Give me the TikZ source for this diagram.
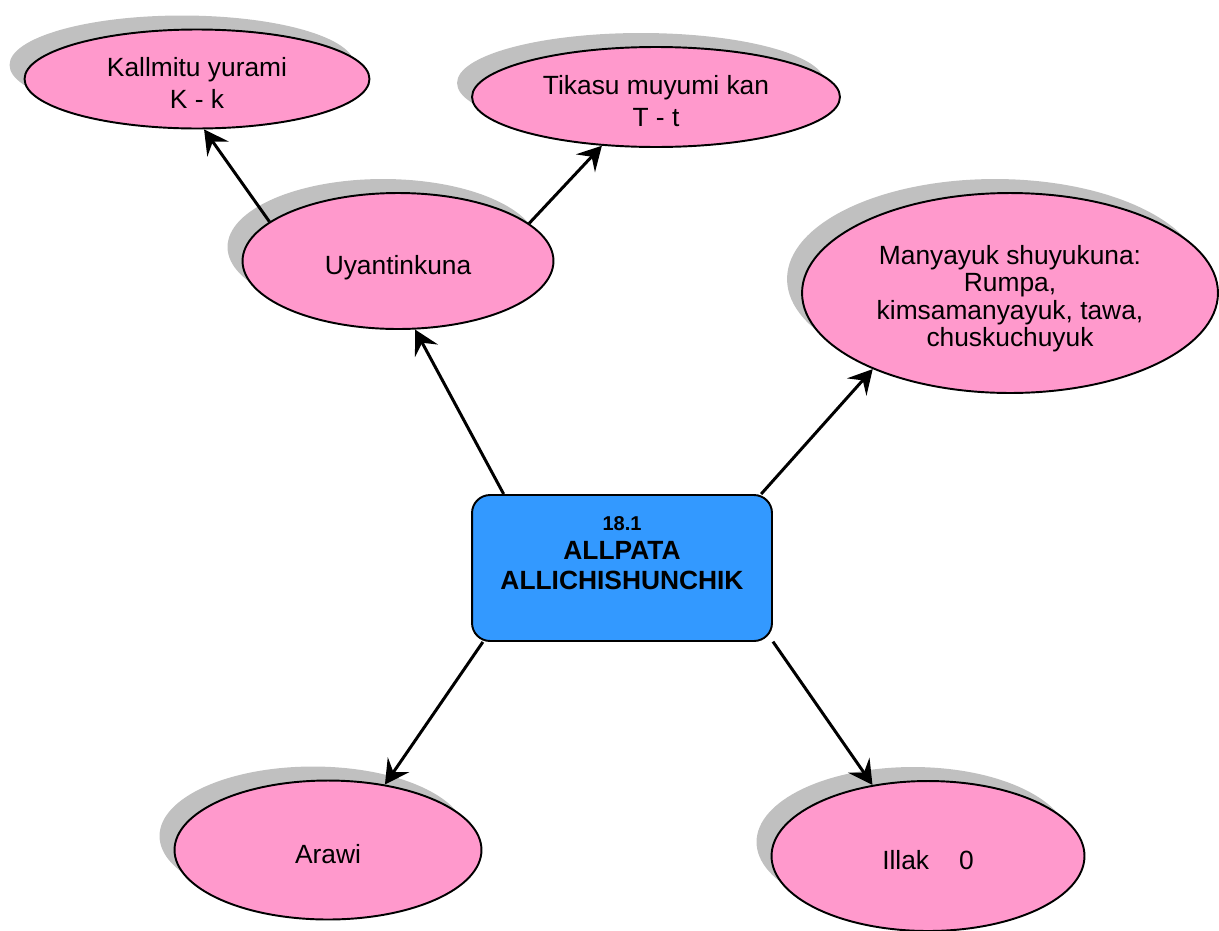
\documentclass[tikz,border=0pt]{standalone}
\usepackage{fontspec}
\setmainfont{Liberation Sans}
\usetikzlibrary{positioning,shapes.geometric,shadows,arrows.meta}
\definecolor{bubble}{HTML}{FF99CC}
\definecolor{boxblue}{HTML}{3399FF}
\definecolor{shade}{HTML}{C0C0C0}
\newcommand{\inbubble}[1]{\raisebox{-0.14cm}[\height][\depth]{\begin{tabular}{@{}c@{}}#1\end{tabular}}}
\tikzset{%
  idea/.style={ellipse,draw,line width=1.1pt,fill=bubble,inner sep=0pt,
    font=\fontsize{15}{18}\selectfont,
    drop shadow={shadow xshift=-0.3cm,shadow yshift=0.28cm,fill=shade,opacity=1}},
  topic/.style={rectangle,rounded corners=0.36cm,draw,line width=1.1pt,fill=boxblue,
    minimum width=6cm,minimum height=2.92cm},
  link/.style={-{Stealth[length=0.48cm,width=0.52cm,inset=0.18cm]},line width=1.7pt}
}

\begin{document}
\begin{tikzpicture}[x=0.02cm,y=-0.02cm]
  \useasboundingbox (0,0) rectangle (1219,930);

  \node[topic] (main) at (622,568) {};
  \node[align=center,font=\bfseries\fontsize{15}{17}\selectfont,yshift=0.3cm] (title) at (main.center)
    {{\fontsize{11.4}{13}\selectfont 18.1}\\ALLPATA\\ALLICHISHUNCHIK};

  \node[idea,minimum width=6.22cm,minimum height=2.72cm] (uyan) at (398,261) {\inbubble{Uyantinkuna}};
  \node[idea,minimum width=6.9cm,minimum height=1.98cm] (kall) at (197,79) {\inbubble{Kallmitu yurami\\K - k}};
  \node[idea,minimum width=7.36cm,minimum height=2cm] (tika) at (656,97) {\inbubble{Tikasu muyumi kan\\T - t}};
  \node[idea,minimum width=8.32cm,minimum height=4cm,font=\fontsize{15}{15.6}\selectfont] (many) at (1010,293)
    {\inbubble{Manyayuk shuyukuna:\\Rumpa,\\kimsamanyayuk, tawa,\\chuskuchuyuk}};
  \node[idea,minimum width=6.14cm,minimum height=2.78cm] (arawi) at (328,850) {\inbubble{Arawi}};
  \node[idea,minimum width=6.26cm,minimum height=3cm] (illak) at (928,856) {\inbubble{Illak\hspace{0.6cm}0}};

  \draw[link] (main.148) -- (uyan.284);
  \draw[link] (main.28) -- (many.209);
  \draw[link] (main.208) -- (arawi.49);
  \draw[link] (main.334) -- (illak.128);
  \draw[link] (uyan.163) -- (kall.278);
  \draw[link] (uyan.16) -- (tika.222);
\end{tikzpicture}
\end{document}
